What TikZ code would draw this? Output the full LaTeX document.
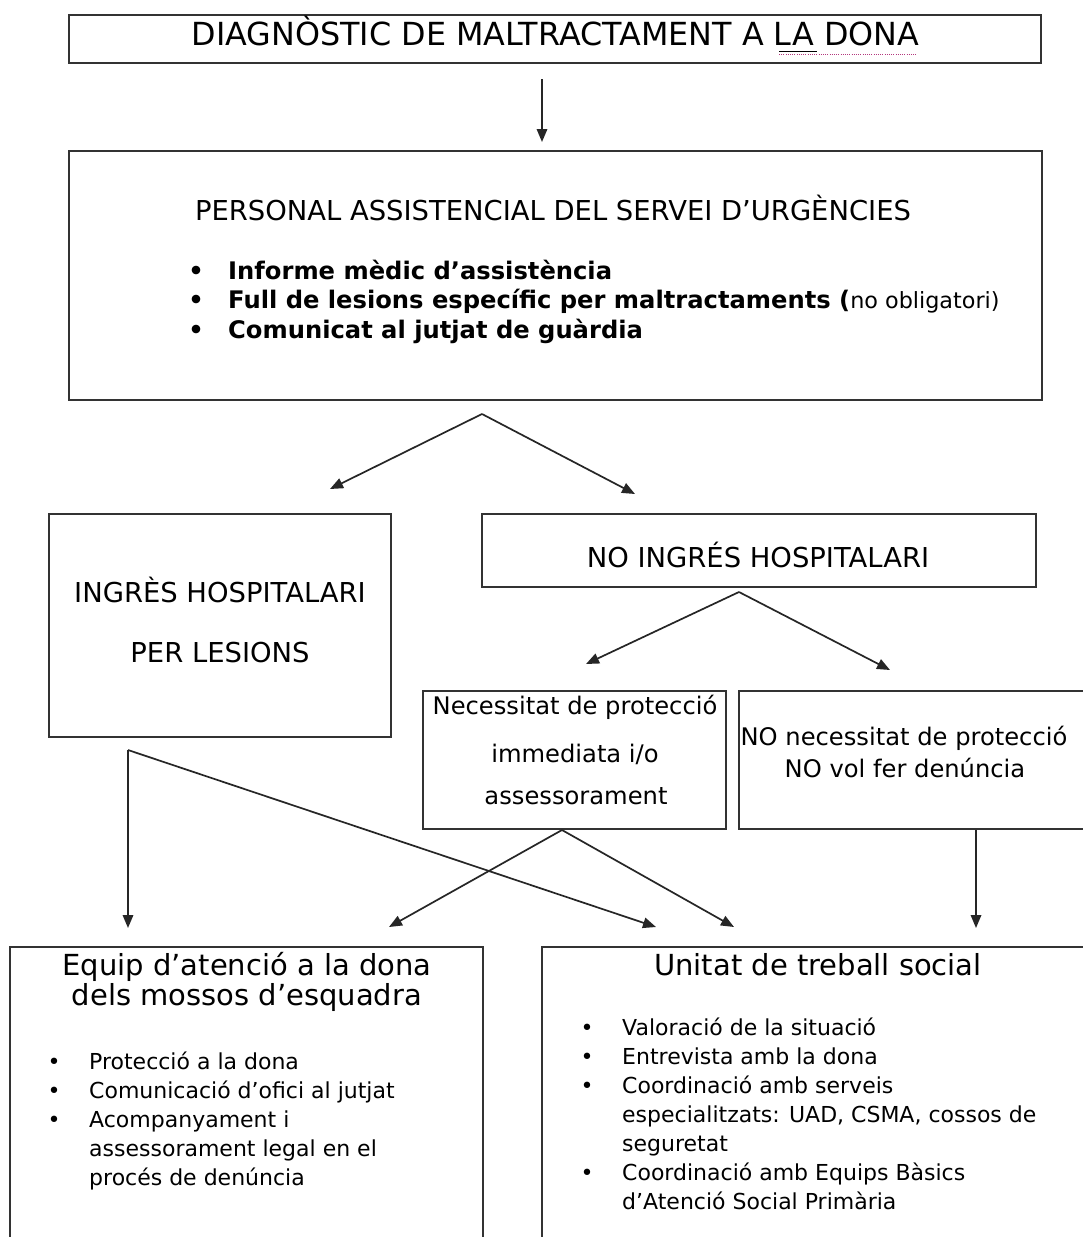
\documentclass[tikz,border=0pt]{standalone}
\usepackage{fontspec}
\setmainfont{DejaVu Sans}
\usetikzlibrary{arrows.meta,fit}
\begin{document}
\begin{tikzpicture}[x=1pt,y=-1pt,
  box/.style={draw=black!80, line width=1.8pt, inner sep=0pt},
  conn/.style={draw=black!85, line width=1.7pt},
  arr/.style={conn, -{Triangle[length=13pt,width=10.5pt]}},
  t/.style={inner sep=0pt, anchor=base},
  tl/.style={inner sep=0pt, anchor=base west},
  caps/.style={font=\fontsize{27.4}{30}\selectfont},
  body/.style={font=\fontsize{22}{29}\selectfont},
  midf/.style={font=\fontsize{24.2}{29}\selectfont},
  head/.style={font=\fontsize{29}{31}\selectfont},
  bb/.style={font=\fontsize{24.2}{29}\selectfont\bfseries}]
\useasboundingbox (0,0) rectangle (1083,1237);
\fill[white] (0,0) rectangle (1083,1237);

% boxes
\node[box, fit={(69,15) (1041,63)}] (diag) {};
\node[box, fit={(69,151) (1042,400)}] (pers) {};
\node[box, fit={(49,514) (391,737)}] (ingres) {};
\node[box, fit={(482,514) (1036,587)}] (noing) {};
\node[box, fit={(423,691) (726,829)}] (nec) {};
\node[box, fit={(739,691) (1100,829)}] (nonec) {};
\node[box, fit={(10,947) (483,1260)}] (equip) {};
\node[box, fit={(542,947) (1100,1260)}] (unitat) {};

% title
\node[t, font=\fontsize{31.8}{33}\selectfont] (diagt) at (555.5,45.5) {DIAGNÒSTIC DE MALTRACTAMENT A LA DONA};
\draw[line width=0.9pt] (779,51.5) -- (817,51.5);
\draw[draw=magenta!70!black, line width=0.9pt, dash pattern=on 1pt off 1.2pt] (779,54) -- (917,54);

% personal box
\node[t, caps] (perst) at (553,220) {PERSONAL ASSISTENCIAL DEL SERVEI D’URGÈNCIES};
\node[t, bb] (pb1) at (196,279) {•};
\node[t, bb] (pb2) at (196,308) {•};
\node[t, bb] (pb3) at (196,338) {•};
\node[tl, bb] (p1) at (228,279) {Informe mèdic d’assistència};
\node[tl, bb] (p2) at (228,308) {Full de lesions específic per maltractaments (\mdseries\fontsize{22.3}{29}\selectfont no obligatori)};
\node[tl, bb] (p3) at (228,338) {Comunicat al jutjat de guàrdia};

% ingres
\node[t, caps] (ing1) at (220,602) {INGRÈS HOSPITALARI};
\node[t, caps] (ing2) at (220,662) {PER LESIONS};
\node[t, caps] (noingt) at (758,567) {NO INGRÉS HOSPITALARI};

% necessitat
\node[t, midf] (n1) at (575,714) {Necessitat de protecció};
\node[t, midf] (n2) at (575,762) {immediata i/o};
\node[t, midf] (n3) at (576,804) {assessorament};
\node[t, midf] (nn1) at (904,745) {NO necessitat de protecció};
\node[t, midf] (nn2) at (905,777) {NO vol fer denúncia};

% equip
\node[t, head] (eh1) at (247,975) {Equip d’atenció a la dona};
\node[t, head] (eh2) at (247,1005) {dels mossos d’esquadra};
\foreach \y in {1069,1098,1127} \node[t, body] at (54,\y) {•};
\foreach \y/\s [count=\i] in {1069/{Protecció a la dona},1098/{Comunicació d’ofici al jutjat},1127/{Acompanyament i},1156/{assessorament legal en el},1185/{procés de denúncia}}
  \node[tl, body] (e\i) at (89,\y) {\s};

% unitat
\node[t, head] (uh) at (818,975) {Unitat de treball social};
\foreach \y in {1035,1064,1093,1180} \node[t, body] at (587,\y) {•};
\foreach \y/\s [count=\i] in {1035/{Valoració de la situació},1064/{Entrevista amb la dona},1093/{Coordinació amb serveis},1122/{especialitzats: UAD, CSMA, cossos de},1151/{seguretat},1180/{Coordinació amb Equips Bàsics},1209/{d’Atenció Social Primària}}
  \node[tl, body] (u\i) at (622,\y) {\s};

% connectors
\coordinate (a0s) at (542,79);
\coordinate (a0e) at (542,142);
\draw[arr] (a0s) -- (a0e);

\coordinate (s1) at (482,414);
\coordinate (s1l) at (330,489);
\coordinate (s1r) at (635,494);
\draw[arr] (s1) -- (s1l);
\draw[arr] (s1) -- (s1r);

\coordinate (s2) at (739,592);
\coordinate (s2l) at (586,664);
\coordinate (s2r) at (890,670);
\draw[arr] (s2) -- (s2l);
\draw[arr] (s2) -- (s2r);

\coordinate (s3) at (128,750);
\coordinate (s3d) at (128,928);
\coordinate (s3u) at (656,927);
\draw[arr] (s3) -- (s3d);
\draw[arr] (s3) -- (s3u);

\coordinate (s4) at (562,830);
\coordinate (s4l) at (389,927);
\coordinate (s4r) at (734,927);
\draw[arr] (s4) -- (s4l);
\draw[arr] (s4) -- (s4r);

\coordinate (s5) at (976,830);
\coordinate (s5d) at (976,928);
\draw[arr] (s5) -- (s5d);
\end{tikzpicture}
\end{document}
